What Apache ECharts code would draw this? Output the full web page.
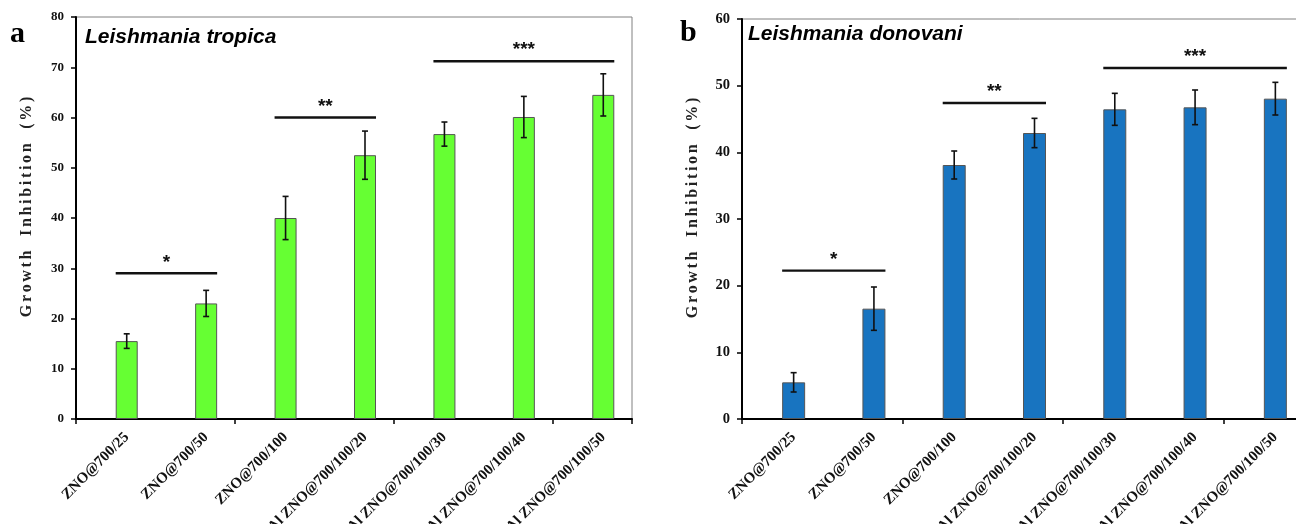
<!DOCTYPE html>
<html>
<head>
<meta charset="utf-8">
<script src="https://cdn.jsdelivr.net/npm/echarts@6/dist/echarts.min.js"></script>
<style>
  html, body { margin: 0; padding: 0; background: #fff; }
  #chart { width: 1296px; height: 524px; }
</style>
</head>
<body>
<div id="chart"></div>
<script>
// ---- data ----
const categories = [
    'ZNO@700/25', 'ZNO@700/50', 'ZNO@700/100',
    'Al ZNO@700/100/20', 'Al ZNO@700/100/30', 'Al ZNO@700/100/40', 'Al ZNO@700/100/50'
];

const tropicaValues  = [15.5, 23.0, 40.0, 52.5, 56.7, 60.1, 64.5];
const tropicaErrors  = [1.45, 2.6, 4.3, 4.8, 2.4, 4.1, 4.2];
const donovaniValues = [5.5, 16.55, 38.1, 42.9, 46.45, 46.75, 48.05];
const donovaniErrors = [1.45, 3.25, 2.1, 2.2, 2.4, 2.6, 2.45];

// y axis ranges (min, max, step)
const tropicaAxis  = [0, 80, 10];
const donovaniAxis = [0, 60, 10];

// significance brackets: [from category, height, to category, stars]
const tropicaBrackets  = [[0, 29.0, 1, '*'], [2, 60.0, 3, '**'], [4, 71.2, 6, '***']];
const donovaniBrackets = [[0, 22.25, 1, '*'], [2, 47.4, 3, '**'], [4, 52.65, 6, '***']];

const panelTitles = ['Leishmania tropica', 'Leishmania donovani'];
const panelLetters = ['a', 'b'];
const yName = 'Growth Inhibition (%)';

// ---- styling ----
const SERIF = "'Liberation Serif', 'Times New Roman', serif";
const SANS  = "'Liberation Sans', Arial, sans-serif";

// spread the axis name out, like the original
function spaced(str) {
    return str.split(' ')
        .map(w => w.split('').join('\u2006'))
        .join('\u2006   ');
}

function frameAxes(grid, range, tickFont) {
    return {
        x: {
            type: 'category', gridIndex: grid, data: categories,
            axisLine: { lineStyle: { color: '#000', width: 2 } },
            axisTick: { show: true, length: 5, lineStyle: { color: '#000', width: 1.5 } },
            axisLabel: { show: false },
            splitLine: { show: false }
        },
        y: {
            type: 'value', gridIndex: grid,
            min: range[0], max: range[1], interval: range[2],
            name: spaced(yName), nameLocation: 'middle', nameGap: 41, nameRotate: 90,
            nameTextStyle: {
                fontFamily: SERIF, fontWeight: 'bold', fontSize: 16, color: '#222',
                padding: [0, 0, 0, 22]
            },
            axisLine: { show: true, lineStyle: { color: '#000', width: 2 } },
            axisTick: { show: true, length: 5, lineStyle: { color: '#000', width: 1.5 } },
            axisLabel: { fontFamily: SERIF, fontWeight: 'bold', fontSize: tickFont, color: '#111', margin: 12 },
            splitLine: { show: false }
        }
    };
}

function dataAxes(grid, range) {
    return {
        x: {
            type: 'category', gridIndex: grid, data: categories,
            axisLine: { show: false }, axisTick: { show: false },
            axisLabel: {
                interval: 0, rotate: 45, margin: 16,
                fontFamily: SERIF, fontWeight: 'bold', fontSize: 15, color: '#111'
            },
            splitLine: { show: false }
        },
        y: {
            type: 'value', gridIndex: grid, show: false,
            min: range[0], max: range[1], interval: range[2],
            splitLine: { show: false }
        }
    };
}

function barSeries(values, color, axis, barW) {
    return {
        type: 'bar', xAxisIndex: axis, yAxisIndex: axis,
        barWidth: barW, data: values,
        itemStyle: { color: color, borderColor: '#555', borderWidth: 1 },
        silent: true, z: 2
    };
}

function errorSeries(values, errors, axis) {
    return {
        type: 'custom', xAxisIndex: axis, yAxisIndex: axis, z: 5, silent: true,
        data: values.map((v, i) => [i, v, errors[i]]),
        renderItem(params, api) {
            const i = api.value(0), v = api.value(1), e = api.value(2);
            const top = api.coord([i, v + e]);
            const bot = api.coord([i, v - e]);
            const cap = 3;
            const style = { stroke: '#111', lineWidth: 1.6 };
            return {
                type: 'group',
                children: [
                    { type: 'line', shape: { x1: top[0], y1: top[1], x2: bot[0], y2: bot[1] }, style },
                    { type: 'line', shape: { x1: top[0] - cap, y1: top[1], x2: top[0] + cap, y2: top[1] }, style },
                    { type: 'line', shape: { x1: bot[0] - cap, y1: bot[1], x2: bot[0] + cap, y2: bot[1] }, style }
                ]
            };
        }
    };
}

function bracketSeries(brackets, axis, barW) {
    return {
        type: 'custom', xAxisIndex: axis, yAxisIndex: axis, z: 5, silent: true,
        data: brackets.map(b => [b[0], b[1], b[2]]),
        renderItem(params, api) {
            const a = api.coord([api.value(0), api.value(1)]);
            const b = api.coord([api.value(2), api.value(1)]);
            const x1 = a[0] - barW / 2, x2 = b[0] + barW / 2;
            return {
                type: 'group',
                children: [
                    { type: 'line', shape: { x1, y1: a[1], x2, y2: a[1] },
                      style: { stroke: '#111', lineWidth: 2.4 } },
                    { type: 'text',
                      style: {
                          text: brackets[params.dataIndex][3],
                          x: (x1 + x2) / 2, y: a[1] - 11,
                          align: 'center', verticalAlign: 'middle',
                          font: 'bold 19px ' + SANS, fill: '#111'
                      } }
                ]
            };
        }
    };
}

const fa = frameAxes(0, tropicaAxis, 13);
const da = dataAxes(1, tropicaAxis);
const fb = frameAxes(2, donovaniAxis, 14.5);
const db = dataAxes(3, donovaniAxis);

const gridBase = { outerBoundsMode: 'none', containLabel: false };

const option = {
    backgroundColor: '#fff',
    animation: false,
    grid: [
        { ...gridBase, left: 76,    top: 17, width: 556, height: 402, show: true, borderColor: '#808080', borderWidth: 1 },
        { ...gridBase, left: 87,    top: 17, width: 556, height: 402 },
        { ...gridBase, left: 742,   top: 19, width: 562, height: 400, show: true, borderColor: '#808080', borderWidth: 1 },
        { ...gridBase, left: 753.5, top: 19, width: 562, height: 400 }
    ],
    xAxis: [fa.x, da.x, fb.x, db.x],
    yAxis: [fa.y, da.y, fb.y, db.y],
    series: [
        barSeries(tropicaValues, '#66FF33', 1, 22),
        errorSeries(tropicaValues, tropicaErrors, 1),
        bracketSeries(tropicaBrackets, 1, 22),
        barSeries(donovaniValues, '#1874C0', 3, 23),
        errorSeries(donovaniValues, donovaniErrors, 3),
        bracketSeries(donovaniBrackets, 3, 23)
    ],
    graphic: [
        { type: 'text', left: 10, top: 19,
          style: { text: panelLetters[0], font: 'bold 30px ' + SERIF, fill: '#000' } },
        { type: 'text', left: 680, top: 18,
          style: { text: panelLetters[1], font: 'bold 30px ' + SERIF, fill: '#000' } },
        { type: 'text', left: 85, top: 27,
          style: { text: panelTitles[0], font: 'italic bold 21px ' + SANS, fill: '#000' } },
        { type: 'text', left: 748, top: 24,
          style: { text: panelTitles[1], font: 'italic bold 21px ' + SANS, fill: '#000' } }
    ]
};

const chart = echarts.init(document.getElementById('chart'), null, { renderer: 'canvas' });
chart.setOption(option);
window.addEventListener('resize', () => chart.resize());
</script>
</body>
</html>
